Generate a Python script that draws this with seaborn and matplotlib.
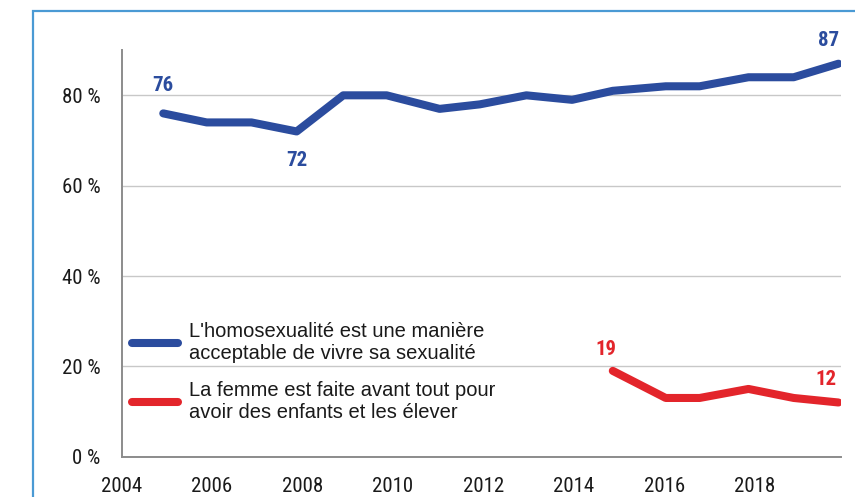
import matplotlib
matplotlib.use("Agg")
import matplotlib.pyplot as plt
import matplotlib.patches as mpatches
from matplotlib import font_manager
import numpy as np
import pandas as pd
import seaborn as sns

# survey dates (fraction of year) and values
homo_years = [2004.92, 2005.88, 2006.87, 2007.87, 2008.9, 2009.86, 2011.03, 2011.92,
              2012.95, 2013.96, 2014.86, 2016.03, 2016.78, 2017.86, 2018.86, 2019.85]
homo_values = [76, 74, 74, 72, 80, 80, 77, 78, 80, 79, 81, 82, 82, 84, 84, 87]

femme_years = [2014.86, 2016.03, 2016.78, 2017.86, 2018.86, 2019.85]
femme_values = [19, 13, 13, 15, 13, 12]

labels = ["L'homosexualité est une manière\nacceptable de vivre sa sexualité",
          "La femme est faite avant tout pour\navoir des enfants et les élever"]
colors = ["#2b4c9e", "#e3252b"]
x_ticks = [2004, 2006, 2008, 2010, 2012, 2014, 2016, 2018]
y_ticks = [0, 20, 40, 60, 80]

df = pd.concat([
    pd.DataFrame({"annee": homo_years, "valeur": homo_values, "serie": labels[0]}),
    pd.DataFrame({"annee": femme_years, "valeur": femme_values, "serie": labels[1]}),
])

sns.set_style("white")
plt.rcParams["font.family"] = ["Liberation Sans", "DejaVu Sans"]

# condensed face for ticks and value labels, if one is installed
installed = {f.name for f in font_manager.fontManager.ttflist}
narrow = [n for n in ["Liberation Sans Narrow", "Arial Narrow", "Roboto Condensed",
                      "Archivo Narrow", "PT Sans Narrow", "Open Sans Condensed"]
          if n in installed] + ["Liberation Sans"]
narrow = narrow[:1]

fig = plt.figure(figsize=(8.55, 4.97), dpi=100)
ax = fig.add_axes([0.1423, 0.0811, 0.8410, 0.8180])

# light blue frame around the chart (right and bottom edges cut off)
fig.patches.append(mpatches.Rectangle((0.0382, -0.1), 1.2, 1.0779, transform=fig.transFigure,
                                      fill=False, edgecolor="#4a9ad4", linewidth=1.6))

sns.lineplot(data=df, x="annee", y="valeur", hue="serie", palette=colors,
             linewidth=5.8, ax=ax, legend=True, solid_capstyle="round", sort=False)

ax.set_xlim(2004, 2019.9)
ax.set_ylim(0, 90)
ax.set_xticks(x_ticks)
ax.set_yticks(y_ticks)
ax.set_yticklabels([f"{v} %" for v in y_ticks])
ax.set_xlabel("")
ax.set_ylabel("")

ax.grid(axis="y", color="#c8c8c8", linewidth=1)
ax.set_axisbelow(True)
for side in ["top", "right"]:
    ax.spines[side].set_visible(False)
for side in ["left", "bottom"]:
    ax.spines[side].set_color("#8c8c8c")
    ax.spines[side].set_linewidth(1.4)

ax.tick_params(axis="y", length=6, width=1, color="#8c8c8c", pad=9.5, labelsize=15)
ax.tick_params(axis="x", length=6, width=1, color="#8c8c8c", pad=8.5, labelsize=15)
for t in ax.get_xticklabels() + ax.get_yticklabels():
    t.set_family(narrow)
    t.set_color("#1a1a1a")

# value annotations
annot = [
    (homo_years[0], homo_values[0], 0.0, 6.2, colors[0]),
    (homo_years[3], homo_values[3], 0.0, -6.5, colors[0]),
    (homo_years[-1], homo_values[-1], -0.22, 5.2, colors[0]),
    (femme_years[0], femme_values[0], -0.15, 4.8, colors[1]),
    (femme_years[-1], femme_values[-1], -0.28, 5.0, colors[1]),
]
for x, y, dx, dy, c in annot:
    ax.text(x + dx, y + dy, f"{y}", color=c, fontsize=15, fontweight="bold",
            ha="center", va="center", family=narrow)

leg = ax.legend(loc="upper left", bbox_to_anchor=(0.0139, 0.332), frameon=False,
                fontsize=14.5, handlelength=2.3, handletextpad=0.55, labelspacing=0.9,
                borderaxespad=0, borderpad=0)
for line in leg.get_lines():
    line.set_linewidth(5.8)
    line.set_solid_capstyle("round")
for t in leg.get_texts():
    t.set_color("#1a1a1a")

fig.savefig("out.png", dpi=100)
